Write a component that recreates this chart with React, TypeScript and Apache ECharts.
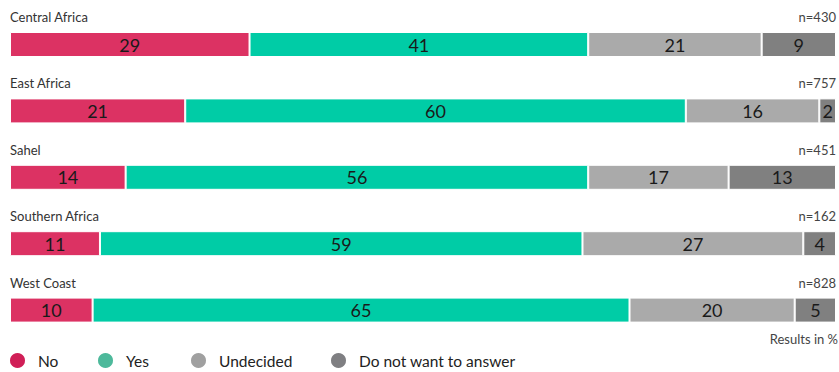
import React, { useEffect, useRef } from "react";
import * as echarts from "echarts";

const regions = ["Central Africa", "East Africa", "Sahel", "Southern Africa", "West Coast"];
const sampleSizes = ["n=430", "n=757", "n=451", "n=162", "n=828"];
const seriesNames = ["No", "Yes", "Undecided", "Do not want to answer"];
const noValues = [29, 21, 14, 11, 10];
const yesValues = [41, 60, 56, 59, 65];
const undecidedValues = [21, 16, 17, 27, 20];
const noAnswerValues = [9, 2, 13, 4, 5];

const barColors = ["#dc3263", "#00cca6", "#aaaaaa", "#808080"];
const legendColors = ["#d01f57", "#4db99b", "#a0a0a0", "#7f7f82"];
const legendLefts = [8, 96, 189, 329];
const FONT = "Lato, 'Noto Sans', sans-serif";

const sideLabel = (color: string) => ({
  inside: true,
  margin: 0,
  verticalAlign: "middle",
  formatter: (v: string) => `{t|${v}}\n{s| }`,
  rich: {
    t: { fontSize: 13, lineHeight: 15, color, fontFamily: FONT },
    s: { fontSize: 10, lineHeight: 55 },
  },
});

export default function App() {
  const ref = useRef<HTMLDivElement>(null);
  useEffect(() => {
    if (!ref.current) return;
    const chart = echarts.init(ref.current, null, { renderer: "svg" });
    const all = [noValues, yesValues, undecidedValues, noAnswerValues];
    const sums = regions.map((_, i) => all.reduce((s, arr) => s + arr[i], 0));
    const series = all.map((arr, si) => ({
      name: seriesNames[si],
      type: "bar",
      stack: "total",
      barWidth: 25,
      yAxisIndex: 0,
      itemStyle: { color: barColors[si], borderColor: "#ffffff", borderWidth: 1 },
      label: {
        show: true,
        position: "inside",
        color: "#1a1a1a",
        fontSize: 18,
        fontFamily: FONT,
        formatter: (p: any) => String(arr[p.dataIndex]),
      },
      emphasis: { disabled: true },
      data: arr.map((v, i) => (v * 100) / sums[i]),
    }));
    chart.setOption({
      animation: false,
      textStyle: { fontFamily: FONT },
      grid: { left: 10, right: 1, top: 11.3, height: 332, containLabel: false },
      xAxis: { type: "value", min: 0, max: 100, show: false },
      yAxis: [
        {
          type: "category",
          data: regions,
          inverse: true,
          axisLine: { show: false },
          axisTick: { show: false },
          splitLine: { show: false },
          axisLabel: sideLabel("#333333"),
        },
        {
          type: "category",
          data: sampleSizes,
          inverse: true,
          position: "right",
          axisLine: { show: false },
          axisTick: { show: false },
          splitLine: { show: false },
          axisLabel: sideLabel("#444444"),
        },
      ],
      legend: seriesNames.map((name, i) => ({
        data: [{ name, itemStyle: { color: legendColors[i] } }],
        left: legendLefts[i],
        top: 351,
        padding: 0,
        icon: "circle",
        itemWidth: 17,
        itemHeight: 17,
        itemGap: 0,
        selectedMode: false,
        textStyle: { fontSize: 15.5, color: "#222222", fontFamily: FONT, padding: [0, 0, 0, 7] },
      })),
      graphic: [
        {
          type: "text",
          right: 1,
          top: 332,
          style: { text: "Results in %", fontSize: 13, fill: "#444444", fontFamily: FONT },
        },
      ],
      series,
    });
    return () => chart.dispose();
  }, []);
  return <div ref={ref} style={{ width: 839, height: 372, position: "absolute", left: 0, top: 0 }} />;
}
